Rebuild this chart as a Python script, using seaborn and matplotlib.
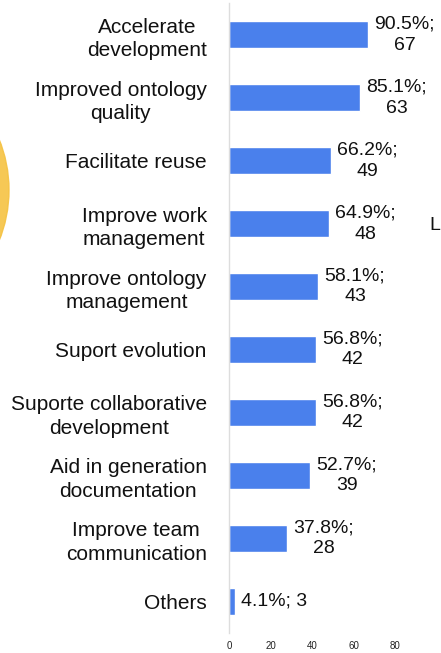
import numpy as np
import pandas as pd
import seaborn as sns
import matplotlib.pyplot as plt
from matplotlib.patches import Ellipse

# data
categories = [
    "Accelerate\ndevelopment",
    "Improved ontology\nquality",
    "Facilitate reuse",
    "Improve work\nmanagement",
    "Improve ontology\nmanagement",
    "Suport evolution",
    "Suporte collaborative\ndevelopment",
    "Aid in generation\ndocumentation",
    "Improve team\ncommunication",
    "Others",
]
counts = [67, 63, 49, 48, 43, 42, 42, 39, 28, 3]
percents = [90.5, 85.1, 66.2, 64.9, 58.1, 56.8, 56.8, 52.7, 37.8, 4.1]
x_ticks = [0, 20, 40, 60, 80]

df = pd.DataFrame({"category": categories, "count": counts, "pct": percents})

sns.set_theme(style="white")
plt.rcParams["font.family"] = ["Liberation Sans", "DejaVu Sans"]

fig = plt.figure(figsize=(4.41, 6.53), dpi=100)
ax = fig.add_axes([229 / 441, 1 - 632.5 / 653, 208 / 441, 629 / 653])

sns.barplot(data=df, x="count", y="category", orient="h", color="#4a80ec",
            saturation=1, width=0.43, ax=ax)

# value labels
for i, (c, p) in enumerate(zip(counts, percents)):
    txt = f"{p}%; {c}" if c < 10 else f"{p}%;\n{c}"
    ax.annotate(txt, xy=(c, i), xytext=(4.5, 0), textcoords="offset points",
                ha="left", va="center", multialignment="center",
                fontsize=14, linespacing=1.3, color="#111111")

ax.set_xlim(0, 100)
ax.set_xticks(x_ticks)
ax.set_xlabel("")
ax.set_ylabel("")
ax.tick_params(axis="x", labelsize=7, colors="#222222", length=0, pad=6)
ax.tick_params(axis="y", labelsize=15, colors="#111111", length=0, pad=16)
for lab in ax.get_yticklabels():
    lab.set_multialignment("center")
    lab.set_linespacing(1.3)

for s in ["top", "right", "bottom"]:
    ax.spines[s].set_visible(False)
ax.spines["left"].set_color("#dddddd")
ax.spines["left"].set_linewidth(1)

# bits of other slide elements showing at the edges
fig.patches.append(Ellipse((-126 / 441, 1 - 190 / 653), 270 / 441, 270 / 653,
                           transform=fig.transFigure, color="#f5c242",
                           alpha=0.9, zorder=0))
fig.text(440 / 441, 1 - 225 / 653, "L", fontsize=14, va="center", ha="right",
         color="#111111")

fig.savefig("out.png", dpi=100)
